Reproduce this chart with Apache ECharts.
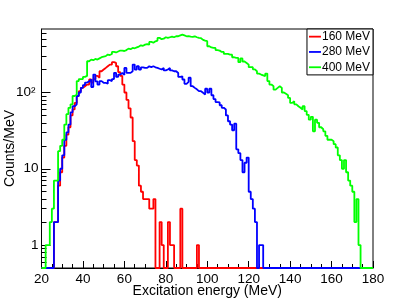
<!DOCTYPE html>
<html><head><meta charset="utf-8">
<script src="https://cdn.jsdelivr.net/npm/echarts@6/dist/echarts.min.js"></script>
<style>html,body{margin:0;padding:0;background:#fff}#c{width:415px;height:299px}</style>
</head><body><div id="c"></div>
<script>
// Bin left edges: 20..179 MeV, 1 MeV wide
const binStart = 20, binWidth = 1;
const red160 = [
0,0,0,0,0,0,2,2,6,9, 14,20,28,35,50,60,73,90,104,115,
121,127,127,148,135,150,165,156,190,200, 210,221,232,232,250,244,221,185,165,127,
100,80,62,47,23,13,11,6,5,4, 4,4,3,3,4,0,0,2,1,0,
0,2,1,1,0,0,0,3,0,0, 0,0,0,0,0,1,0,0,0,0,
0,0,0,0,0,0,0,0,0,0, 0,0,0,0,0,0,0,0,0,0,
0,0,0,0,0,0,0,0,0,0, 0,0,0,0,0,0,0,0,0,0,
0,0,0,0,0,0,0,0,0,0, 0,0,0,0,0,0,0,0,0,0,
0,0,0,0,0,0,0,0,0,0, 0,0,0,0,0,0,0,0,0,0];
const blue280 = [
0,0,0,0,0,0,2,2,7,10, 15,24,30,38,55,66,70,90,100,115,
125,135,140,148,118,172,140,127,141,134, 134,130,145,141,150,181,160,172,180,170,
210,181,181,190,232,200,221,200,214,210, 210,221,215,221,214,210,205,200,210,195,
200,210,195,190,190,180,160,163,148,130, 138,156,121,115,110,104,104,99,94,112,
100,112,92,82,75,74,68,63,60,50, 42,38,32,39,18,16,13,9,12,14,
5,4,3,2,0,1,1,0,0,0, 0,0,0,0,0,0,0,0,0,0,
0,0,0,0,0,0,0,0,0,0, 0,0,0,0,0,0,0,0,0,0,
0,0,0,0,0,0,0,0,0,0, 0,0,0,0,0,0,0,0,0,0];
const green400 = [
0,0,1,1,2,3,7,7,17,20, 24,38,52,63,70,90,94,141,150,150,
160,165,257,270,265,275,270,280,290,295, 300,314,310,320,340,335,345,355,354,350,
360,376,370,384,380,390,400,416,410,424, 430,424,460,450,469,480,520,500,508,530,
520,530,540,530,546,546,560,573,560,546, 550,540,535,546,530,520,515,490,478,470,
404,390,384,384,360,354,340,340,320,320, 313,313,290,284,284,250,280,255,244,232,
215,215,201,190,177,172,168,164,177,141, 127,121,109,115,121,115,100,96,92,85,
73,77,70,66,63,60,66,57,51,44, 48,31,44,40,35,33,31,27,24,24,
23,21,19,15,13,10,13,9,7,6, 5,2,4,1,0,0,0,0,0,0];
const seriesNames = ['160 MeV', '280 MeV', '400 MeV'];
const seriesColors = ['#ff0000', '#0000ff', '#00ff00'];
const xTickValues = [20, 40, 60, 80, 100, 120, 140, 160, 180];
const yMajorTicks = [1, 10, 100];
const yMinorTicks = [0.6,0.7,0.8,0.9,2,3,4,5,6,7,8,9,20,30,40,50,60,70,80,90,200,300,400,500,600];
const xMin = 20, xMax = 180, yMin = 0.5, yMax = 680;

function toSteps(vals){
  const pts = vals.map((v,i)=>[binStart + i*binWidth, v > 0 ? v : yMin]);
  const last = pts[pts.length-1];
  pts.push([binStart + vals.length*binWidth, last[1]]);
  return pts;
}
const FONT = '"Liberation Sans", Arial, Helvetica, sans-serif';
const chart = echarts.init(document.getElementById('c'), null, {renderer:'canvas'});
const yBase = {
  type:'log', logBase:10, min:yMin, max:yMax, position:'left', splitLine:{show:false}
};
chart.setOption({
  animation:false,
  backgroundColor:'#fff',
  textStyle:{fontFamily:FONT},
  grid:{left:41.5, right:42, top:29, bottom:31, show:true, borderColor:'#000', borderWidth:1,
        backgroundColor:'transparent', containLabel:false, outerBoundsMode:'none'},
  legend:{
    orient:'vertical', right:42, top:29, data:seriesNames,
    icon:'rect', itemWidth:12, itemHeight:1.8, itemGap:0,
    padding:[0,3,0,2], backgroundColor:'#fff', borderColor:'#000', borderWidth:1, borderRadius:0,
    textStyle:{fontFamily:FONT, fontSize:12, color:'#000', lineHeight:15.3, padding:[0,0,0,-4]}
  },
  xAxis:{
    type:'value', min:xMin, max:xMax, interval:20,
    name:'Excitation energy (MeV)', nameLocation:'middle', nameGap:16.5, nameMoveOverlap:false,
    nameTextStyle:{fontFamily:FONT, fontSize:14, color:'#000'},
    axisLine:{show:true, lineStyle:{color:'#000', width:1}},
    axisTick:{show:true, inside:true, length:7, lineStyle:{color:'#000'}},
    minorTick:{show:true, splitNumber:4, length:4, lineStyle:{color:'#000'}},
    axisLabel:{fontFamily:FONT, fontSize:13.5, color:'#000', margin:4,
      customValues:xTickValues},
    splitLine:{show:false}
  },
  yAxis:[
    Object.assign({}, yBase, {
      name:'Counts/MeV', nameLocation:'middle', nameGap:24, nameMoveOverlap:false,
      nameTextStyle:{fontFamily:FONT, fontSize:14, color:'#000'},
      axisLine:{show:true, lineStyle:{color:'#000', width:1}},
      axisTick:{show:true, inside:true, length:9, customValues:yMajorTicks, lineStyle:{color:'#000'}},
      axisLabel:{fontFamily:FONT, fontSize:13.5, color:'#000', margin:3, customValues:yMajorTicks,
        formatter:function(v){ return v >= 99 ? '{e|10²}' : String(Math.round(v)); },
        rich:{e:{fontFamily:FONT, fontSize:13.5, color:'#000', padding:[0,3,0,0]}}}
    }),
    Object.assign({}, yBase, {
      axisLine:{show:false},
      axisTick:{show:true, inside:true, length:5, customValues:yMinorTicks, lineStyle:{color:'#000'}},
      axisLabel:{show:false}
    })
  ],
  series:[red160, blue280, green400].map((vals,k)=>({
    name:seriesNames[k], type:'line', step:'end', yAxisIndex:0,
    data:toSteps(vals), showSymbol:false, symbol:'none',
    lineStyle:{color:seriesColors[k], width:1.8}, itemStyle:{color:seriesColors[k]},
    clip:true, z:2+k
  }))
});
</script></body></html>
